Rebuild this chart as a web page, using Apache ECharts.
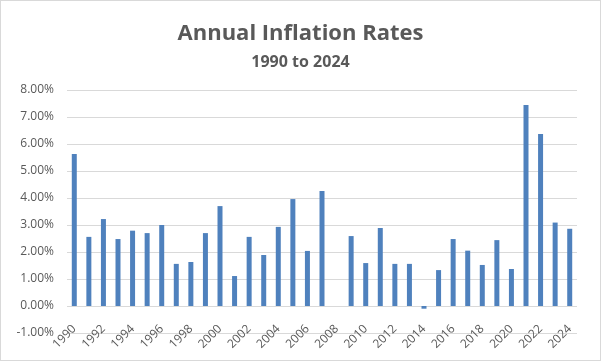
<!DOCTYPE html>
<html><head><meta charset="utf-8">
<script src="https://cdn.jsdelivr.net/npm/echarts@6/dist/echarts.min.js"></script>
<style>html,body{margin:0;padding:0;background:#fff}#c{width:599px;height:359px;border:1px solid #d9d9d9}</style>
</head><body><div id="c"></div>
<script>
var years = ['1990','1991','1992','1993','1994','1995','1996','1997','1998','1999','2000','2001','2002','2003','2004','2005','2006','2007','2008','2009','2010','2011','2012','2013','2014','2015','2016','2017','2018','2019','2020','2021','2022','2023','2024'];
var inflationPct = [5.63,2.56,3.22,2.48,2.79,2.70,3.00,1.56,1.63,2.70,3.70,1.11,2.56,1.89,2.93,3.96,2.04,4.26,0,2.59,1.59,2.89,1.56,1.56,-0.10,1.33,2.48,2.05,1.52,2.44,1.37,7.44,6.37,3.09,2.86];
var yMin = -1, yMax = 8, yStep = 1;
var titleText = 'Annual Inflation Rates';
var subtitleText = '1990 to 2024';

var chart = echarts.init(document.getElementById('c'), null, {renderer:'canvas'});
var font = 'Open Sans';
chart.setOption({
  animation:false,
  backgroundColor:'#fff',
  title:{
    text:titleText, subtext:subtitleText, left:'center', top:17, itemGap:9,
    textStyle:{fontFamily:font, fontSize:22, fontWeight:'bold', color:'#595959'},
    subtextStyle:{fontFamily:font, fontSize:16, fontWeight:'bold', color:'#595959'}
  },
  grid:{left:66, right:23, top:89, bottom:27},
  xAxis:{
    type:'category', data:years,
    axisLine:{show:false}, axisTick:{show:false},
    axisLabel:{interval:1, rotate:45, margin:-6, fontFamily:font, fontSize:12, color:'#595959'}
  },
  yAxis:{
    type:'value', min:yMin, max:yMax, interval:yStep,
    axisLine:{show:false}, axisTick:{show:false},
    splitLine:{lineStyle:{color:'#d9d9d9', width:1}},
    axisLabel:{margin:13, fontFamily:font, fontSize:12, color:'#595959', formatter:function(v){return v.toFixed(2)+'%';}}
  },
  series:[{type:'bar', data:inflationPct, barWidth:5, itemStyle:{color:'#4F81BD'}}]
});
</script></body></html>
